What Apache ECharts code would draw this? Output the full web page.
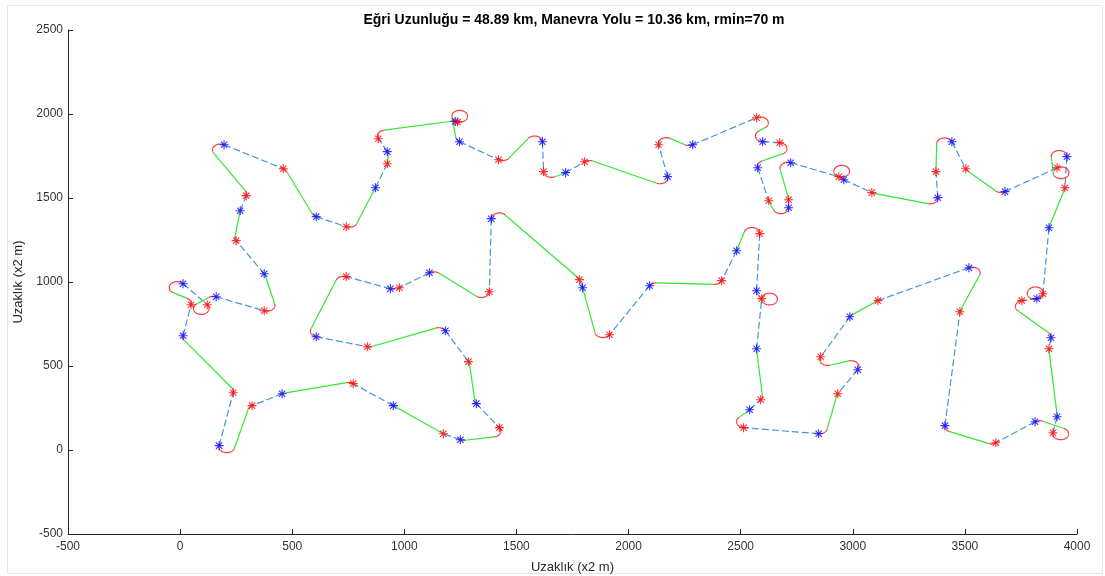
<!DOCTYPE html>
<html>
<head>
<meta charset="utf-8">
<script src="https://cdn.jsdelivr.net/npm/echarts@6/dist/echarts.min.js"></script>
<style>
  html, body { margin: 0; padding: 0; background: #ffffff; }
  #chart { width: 1105px; height: 576px; }
</style>
</head>
<body>
<div id="chart"></div>
<script>
// Route: each task leg runs from a start point (blue *) to an end point (red *).
// Consecutive legs are joined by a Dubins manoeuvre (red arcs + green straight).
const TITLE = 'Eğri Uzunluğu = 48.89 km, Manevra Yolu = 10.36 km, rmin=70 m';
const AXIS_NAME = 'Uzaklık (x2 m)';
const R_MIN = 35; // 70 m turning radius, axis unit = 2 m

const legStartX = [196, 607, 871, 924, 1227, 1246, 1616, 1719, 2174, 2286, 2598, 2576, 2714, 2723, 2960, 3379, 3442, 3679, 3955, 3875, 3821, 3884, 3911, 3813, 3411, 3518, 2987, 3022, 2848, 2540, 2571, 2571, 2482, 2094, 1795, 1388, 1112, 938, 607, 1183, 1321, 1250, 951, 455, 174, 13, 13, 161, 375, 268];
const legStartY = [1817, 1389, 1561, 1776, 1956, 1835, 1835, 1651, 1627, 1817, 1835, 1680, 1442, 1710, 1609, 1502, 1835, 1538, 1746, 1323, 901, 668, 198, 168, 145, 1085, 793, 478, 97, 240, 603, 948, 1186, 978, 966, 1377, 1055, 960, 674, 710, 276, 61, 264, 335, 26, 680, 990, 912, 1049, 1424];
const legEndX = [460, 741, 924, 884, 1237, 1420, 1621, 1804, 2134, 2571, 2674, 2625, 2714, 2938, 3085, 3371, 3504, 3911, 3946, 3848, 3754, 3875, 3893, 3638, 3478, 3112, 2857, 2933, 2513, 2589, 2594, 2585, 2415, 1915, 1781, 1379, 978, 741, 835, 1286, 1424, 1174, 772, 321, 237, 49, 121, 375, 250, 295];
const legEndY = [1674, 1329, 1704, 1853, 1953, 1728, 1657, 1716, 1817, 1978, 1829, 1484, 1490, 1627, 1532, 1657, 1674, 1680, 1561, 930, 889, 603, 103, 43, 823, 889, 555, 335, 133, 299, 901, 1288, 1008, 686, 1014, 942, 966, 1032, 615, 526, 133, 97, 395, 264, 341, 865, 865, 829, 1246, 1514];
// Manoeuvre type used after a given leg where it is not the shortest one
const manoeuvreWord = { 17: 'RSR' };

// ---------- Dubins path geometry (arc-straight-arc words) ----------
const TWO_PI = Math.PI * 2;
function mod2pi(a) { return a - TWO_PI * Math.floor(a / TWO_PI); }

function dubinsWords(alpha, beta, d) {
  const sa = Math.sin(alpha), sb = Math.sin(beta), ca = Math.cos(alpha), cb = Math.cos(beta);
  const cab = Math.cos(alpha - beta), dsq = d * d;
  const out = [];
  let psq, t0, t1, p;
  // LSL
  psq = 2 + dsq - 2 * cab + 2 * d * (sa - sb);
  if (psq >= 0) {
    t1 = Math.atan2(cb - ca, d + sa - sb);
    out.push({ w: 'LSL', s: [mod2pi(t1 - alpha), Math.sqrt(psq), mod2pi(beta - t1)] });
  }
  // RSR
  psq = 2 + dsq - 2 * cab + 2 * d * (sb - sa);
  if (psq >= 0) {
    t1 = Math.atan2(ca - cb, d - sa + sb);
    out.push({ w: 'RSR', s: [mod2pi(alpha - t1), Math.sqrt(psq), mod2pi(t1 - beta)] });
  }
  // LSR
  psq = -2 + dsq + 2 * cab + 2 * d * (sa + sb);
  if (psq >= 0) {
    p = Math.sqrt(psq);
    t0 = Math.atan2(-ca - cb, d + sa + sb) - Math.atan2(-2, p);
    out.push({ w: 'LSR', s: [mod2pi(t0 - alpha), p, mod2pi(t0 - mod2pi(beta))] });
  }
  // RSL
  psq = -2 + dsq + 2 * cab - 2 * d * (sa + sb);
  if (psq >= 0) {
    p = Math.sqrt(psq);
    t0 = Math.atan2(ca + cb, d - sa - sb) - Math.atan2(2, p);
    out.push({ w: 'RSL', s: [mod2pi(alpha - t0), p, mod2pi(beta - t0)] });
  }
  return out;
}

function stepPose(q, type, t) {
  if (type === 'L') return [q[0] + Math.sin(q[2] + t) - Math.sin(q[2]), q[1] - Math.cos(q[2] + t) + Math.cos(q[2]), q[2] + t];
  if (type === 'R') return [q[0] - Math.sin(q[2] - t) + Math.sin(q[2]), q[1] + Math.cos(q[2] - t) - Math.cos(q[2]), q[2] - t];
  return [q[0] + Math.cos(q[2]) * t, q[1] + Math.sin(q[2]) * t, q[2]];
}

// Returns the three pieces of the chosen path as point lists
function dubinsPieces(x0, y0, th0, x1, y1, th1, rho, word) {
  const dx = x1 - x0, dy = y1 - y0;
  const d = Math.sqrt(dx * dx + dy * dy) / rho;
  const theta = mod2pi(Math.atan2(dy, dx));
  const alpha = mod2pi(th0 - theta), beta = mod2pi(th1 - theta);
  let cands = dubinsWords(alpha, beta, d);
  if (word && cands.some(c => c.w === word)) cands = cands.filter(c => c.w === word);
  let best = null;
  cands.forEach(c => {
    const L = c.s[0] + c.s[1] + c.s[2];
    if (!best || L < best.L) best = { w: c.w, s: c.s, L };
  });
  const pieces = [];
  if (!best) return pieces;
  let q = [0, 0, th0];
  for (let k = 0; k < 3; k++) {
    const type = best.w[k], len = best.s[k];
    const n = type === 'S' ? 1 : Math.max(2, Math.ceil(len / 0.05));
    const pts = [];
    for (let i = 0; i <= n; i++) {
      const qq = stepPose(q, type, len * i / n);
      pts.push([x0 + qq[0] * rho, y0 + qq[1] * rho]);
    }
    pieces.push({ type, pts });
    q = stepPose(q, type, len);
  }
  return pieces;
}

// ---------- build series data ----------
const n = legStartX.length;
const legLines = [], arcLines = [], straightLines = [];
const startMarks = [], endMarks = [];
for (let i = 0; i < n; i++) {
  const sx = legStartX[i], sy = legStartY[i], ex = legEndX[i], ey = legEndY[i];
  legLines.push({ coords: [[sx, sy], [ex, ey]] });
  startMarks.push([sx, sy]);
  endMarks.push([ex, ey]);
  const j = (i + 1) % n;
  const thEnd = Math.atan2(ey - sy, ex - sx);
  const nsx = legStartX[j], nsy = legStartY[j];
  const thNext = Math.atan2(legEndY[j] - nsy, legEndX[j] - nsx);
  dubinsPieces(ex, ey, thEnd, nsx, nsy, thNext, R_MIN, manoeuvreWord[i]).forEach(pc => {
    if (pc.type === 'S') straightLines.push({ coords: pc.pts });
    else arcLines.push({ coords: pc.pts });
  });
}

const STAR = 'path://M5,0L5,10M0,5L10,5M1.5,1.5L8.5,8.5M1.5,8.5L8.5,1.5';
const FONT = 'Liberation Sans, Arial, Helvetica, sans-serif';

const chart = echarts.init(document.getElementById('chart'), null, { renderer: 'canvas' });
chart.setOption({
  animation: false,
  backgroundColor: '#ffffff',
  title: {
    text: TITLE,
    left: 569, top: 8, textAlign: 'center',
    textStyle: { fontFamily: FONT, fontSize: 14, fontWeight: 'bold', color: '#000000' }
  },
  graphic: [{
    type: 'rect', shape: { x: 7.5, y: 5.5, width: 1095, height: 568 },
    style: { fill: 'none', stroke: '#e6e6e6', lineWidth: 1 }, silent: true, z: -1
  }],
  grid: { left: 68, right: 28, top: 30, bottom: 42, containLabel: false, outerBoundsMode: 'none' },
  xAxis: {
    type: 'value', min: -500, max: 4000, interval: 500,
    name: AXIS_NAME, nameLocation: 'middle', nameGap: 27,
    nameTextStyle: { fontFamily: FONT, fontSize: 13, color: '#262626' },
    axisLine: { onZero: false, lineStyle: { color: '#262626', width: 1 } },
    axisTick: { inside: true, length: 5, lineStyle: { color: '#262626' } },
    axisLabel: { margin: 7, fontFamily: FONT, fontSize: 12, color: '#333333', formatter: v => String(v) },
    splitLine: { show: false }
  },
  yAxis: {
    type: 'value', min: -500, max: 2500, interval: 500,
    name: AXIS_NAME, nameLocation: 'middle', nameGap: 35, nameRotate: 90,
    nameTextStyle: { fontFamily: FONT, fontSize: 13, color: '#262626' },
    axisLine: { onZero: false, lineStyle: { color: '#262626', width: 1 } },
    axisTick: { inside: true, length: 5, lineStyle: { color: '#262626' } },
    axisLabel: { margin: 5, fontFamily: FONT, fontSize: 12, color: '#333333', formatter: v => String(v) },
    splitLine: { show: false }
  },
  series: [
    {
      type: 'lines', coordinateSystem: 'cartesian2d', silent: true, z: 2,
      lineStyle: { color: '#4596d6', width: 1.2, type: [7, 3], opacity: 1 },
      data: legLines
    },
    {
      type: 'lines', coordinateSystem: 'cartesian2d', polyline: true, silent: true, z: 3,
      lineStyle: { color: '#33e633', width: 1.2, opacity: 1 },
      data: straightLines
    },
    {
      type: 'lines', coordinateSystem: 'cartesian2d', polyline: true, silent: true, z: 3,
      lineStyle: { color: '#ff3b3b', width: 1.2, opacity: 1 },
      data: arcLines
    },
    {
      type: 'scatter', silent: true, z: 4, symbol: STAR, symbolSize: 9,
      itemStyle: { color: 'none', borderColor: '#0000ff', borderWidth: 1.1 },
      data: startMarks
    },
    {
      type: 'scatter', silent: true, z: 5, symbol: STAR, symbolSize: 9,
      itemStyle: { color: 'none', borderColor: '#ff0000', borderWidth: 1.1 },
      data: endMarks
    }
  ]
});
</script>
</body>
</html>
